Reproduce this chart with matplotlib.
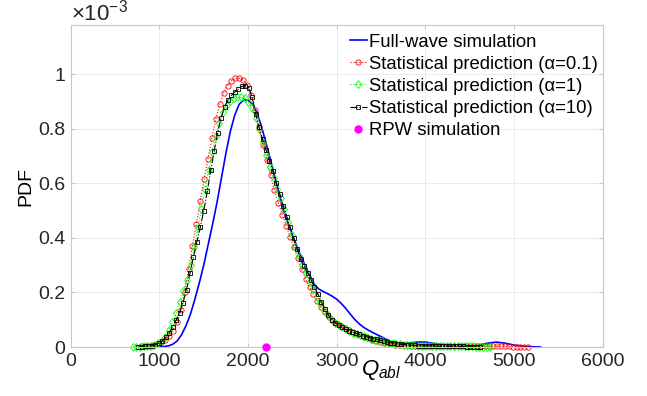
import numpy as np
import matplotlib
matplotlib.use("Agg")
import matplotlib.pyplot as plt
from matplotlib.ticker import FuncFormatter

plt.rcParams['font.family'] = ['Liberation Sans', 'DejaVu Sans']
plt.rcParams['mathtext.fontset'] = 'custom'
plt.rcParams['mathtext.rm'] = 'Liberation Sans'
plt.rcParams['mathtext.it'] = 'Liberation Sans:italic'

# full-wave simulation (PDF in units of 1e-3)
fw_q = [1000, 1100, 1150, 1200, 1250, 1300, 1350, 1400, 1450, 1500, 1550, 1600,
        1650, 1700, 1750, 1800, 1850, 1900, 1950, 2000, 2050, 2100, 2150, 2200,
        2250, 2300, 2350, 2400, 2450, 2500, 2550, 2600, 2650, 2700, 2750, 2800,
        2850, 2900, 2950, 3000, 3050, 3100, 3150, 3200, 3250, 3300, 3350, 3400,
        3450, 3500, 3550, 3600, 3650, 3700, 3800, 3900, 4000, 4100, 4200, 4300,
        4400, 4500, 4600, 4700, 4800, 4900, 5000, 5100, 5200, 5300]
fw_pdf = [0.000, 0.004, 0.010, 0.022, 0.045, 0.078, 0.120, 0.175, 0.235, 0.300, 0.375, 0.450,
          0.530, 0.620, 0.710, 0.790, 0.850, 0.890, 0.905, 0.905, 0.890, 0.860, 0.810, 0.750,
          0.690, 0.625, 0.560, 0.500, 0.455, 0.410, 0.370, 0.330, 0.295, 0.260, 0.228, 0.212,
          0.203, 0.195, 0.186, 0.175, 0.160, 0.142, 0.122, 0.102, 0.086, 0.073, 0.063, 0.054,
          0.046, 0.038, 0.030, 0.022, 0.016, 0.013, 0.014, 0.018, 0.018, 0.013, 0.008, 0.005,
          0.003, 0.003, 0.006, 0.014, 0.018, 0.014, 0.007, 0.003, 0.001, 0.000]

# statistical predictions, 100-point grids
a01_range = (800, 5160)
a01_pdf = [0.002, 0.003, 0.005, 0.008, 0.012, 0.018, 0.027, 0.040, 0.060, 0.090,
           0.135, 0.200, 0.285, 0.370, 0.450, 0.535, 0.615, 0.690, 0.765, 0.835,
           0.890, 0.930, 0.958, 0.975, 0.985, 0.985, 0.978, 0.960, 0.925, 0.870,
           0.805, 0.740, 0.685, 0.630, 0.575, 0.528, 0.485, 0.445, 0.405, 0.365,
           0.325, 0.285, 0.250, 0.220, 0.193, 0.168, 0.146, 0.127, 0.111, 0.097,
           0.086, 0.077, 0.069, 0.062, 0.055, 0.049, 0.043, 0.037, 0.032, 0.027,
           0.023, 0.019, 0.016, 0.013, 0.011, 0.009, 0.008, 0.007, 0.006, 0.005,
           0.005, 0.004, 0.004, 0.004, 0.004, 0.003, 0.003, 0.003, 0.003, 0.003,
           0.003, 0.002, 0.002, 0.002, 0.002, 0.002, 0.002, 0.002, 0.002, 0.002,
           0.002, 0.002, 0.002, 0.002, 0.002, 0.001, 0.001, 0.001, 0.001, 0.001]

a1_range = (700, 4730)
a1_pdf = [0.000, 0.001, 0.001, 0.002, 0.003, 0.005, 0.008, 0.014, 0.023, 0.036,
          0.062, 0.090, 0.125, 0.165, 0.205, 0.245, 0.300, 0.365, 0.435, 0.505,
          0.578, 0.650, 0.715, 0.775, 0.822, 0.860, 0.887, 0.903, 0.912, 0.916,
          0.916, 0.911, 0.898, 0.875, 0.840, 0.798, 0.750, 0.705, 0.660, 0.618,
          0.580, 0.545, 0.505, 0.458, 0.410, 0.368, 0.332, 0.300, 0.270, 0.240,
          0.212, 0.185, 0.160, 0.137, 0.117, 0.101, 0.089, 0.080, 0.072, 0.065,
          0.059, 0.053, 0.048, 0.043, 0.039, 0.035, 0.031, 0.027, 0.024, 0.021,
          0.018, 0.016, 0.014, 0.012, 0.010, 0.009, 0.008, 0.007, 0.006, 0.005,
          0.005, 0.004, 0.004, 0.004, 0.003, 0.003, 0.003, 0.003, 0.003, 0.002,
          0.002, 0.002, 0.002, 0.002, 0.002, 0.001, 0.001, 0.001, 0.001, 0.000]

a10_range = (760, 4620)
a10_pdf = [0.000, 0.001, 0.002, 0.003, 0.005, 0.008, 0.013, 0.022, 0.035, 0.052,
           0.074, 0.098, 0.125, 0.163, 0.210, 0.270, 0.330, 0.385, 0.440, 0.500,
           0.570, 0.648, 0.718, 0.785, 0.840, 0.880, 0.905, 0.922, 0.935, 0.945,
           0.955, 0.958, 0.950, 0.915, 0.855, 0.805, 0.762, 0.722, 0.682, 0.645,
           0.600, 0.560, 0.518, 0.478, 0.438, 0.398, 0.358, 0.322, 0.296, 0.272,
           0.246, 0.220, 0.193, 0.165, 0.140, 0.118, 0.100, 0.089, 0.080, 0.072,
           0.065, 0.059, 0.054, 0.050, 0.046, 0.042, 0.038, 0.034, 0.031, 0.028,
           0.025, 0.022, 0.019, 0.016, 0.014, 0.012, 0.010, 0.009, 0.008, 0.007,
           0.006, 0.005, 0.005, 0.004, 0.004, 0.004, 0.003, 0.003, 0.003, 0.003,
           0.002, 0.002, 0.002, 0.002, 0.002, 0.001, 0.001, 0.001, 0.001, 0.000]

rpw_q = [2200]
rpw_pdf = [0.0]

fig = plt.figure(figsize=(6.47, 3.96), dpi=100)
ax = fig.add_axes([0.1093, 0.1237, 0.8223, 0.8131])

ax.plot(fw_q, fw_pdf, color='#0000ff', lw=1.2, label='Full-wave simulation')
ax.plot(np.linspace(*a01_range, len(a01_pdf)), a01_pdf, color='#ff0000', ls=':', lw=0.8,
        marker='o', ms=3.8, mfc='none', mew=0.6, clip_on=False,
        label='Statistical prediction (α=0.1)')
ax.plot(np.linspace(*a1_range, len(a1_pdf)), a1_pdf, color='#00ff00', ls=':', lw=0.8,
        marker='d', ms=4.3, mfc='none', mew=0.6, clip_on=False,
        label='Statistical prediction (α=1)')
ax.plot(np.linspace(*a10_range, len(a10_pdf)), a10_pdf, color='black', ls='-.', lw=0.8,
        marker='s', ms=3.4, mfc='none', mew=0.6, clip_on=False,
        label='Statistical prediction (α=10)')
ax.plot(rpw_q, rpw_pdf, ls='none', marker='o', ms=5, color='#ff00ff', clip_on=False,
        zorder=5, label='RPW simulation')

ax.set_xlim(0, 6000)
ax.set_ylim(0, 1.18)
ax.set_xticks([0, 1000, 2000, 3000, 4000, 5000, 6000])
ax.set_yticks([0, 0.2, 0.4, 0.6, 0.8, 1.0])
ax.yaxis.set_major_formatter(FuncFormatter(lambda v, p: '%g' % v))
ax.grid(True, color='#e8e8e8', lw=0.6)
ax.set_axisbelow(True)
for s in ax.spines.values():
    s.set_color('#c8c8c8')
    s.set_linewidth(0.8)
ax.tick_params(direction='in', length=3, color='#c8c8c8', labelsize=14,
               labelcolor='#262626', top=True, right=True, pad=4)

ax.set_ylabel('PDF', fontsize=14)
ax.yaxis.set_label_coords(-0.068, 0.5)
ax.set_xlabel(r'$Q_{abl}$', fontsize=16)
ax.xaxis.set_label_coords(0.583, -0.035)
ax.text(0.0, 1.0, r'$\times\mathregular{10^{-3}}$', transform=ax.transAxes,
        fontsize=16, color='#262626', va='bottom', ha='left')

ax.legend(loc='upper left', bbox_to_anchor=(0.518, 0.985), frameon=False, fontsize=13.3,
          handlelength=0.9, handletextpad=0.15, labelspacing=0.28, borderpad=0.2,
          borderaxespad=0)

fig.savefig('out.png', dpi=100)
